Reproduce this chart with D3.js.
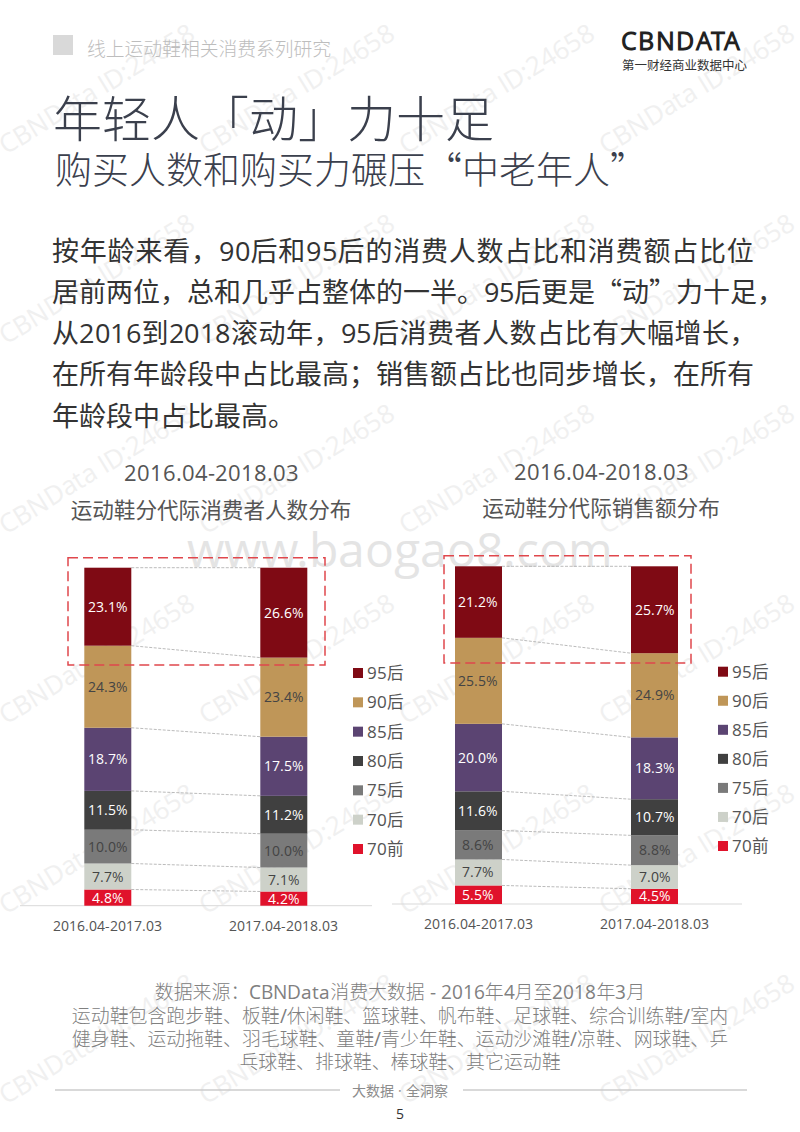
<!DOCTYPE html>
<html>
<head>
<meta charset="utf-8">
<title>CBNData</title>
<script src="https://d3js.org/d3.v7.min.js"></script>
<style>
/* latin and digits from Open Sans, everything else (full width quotes too) from Noto */
@font-face {
    font-family: "LatinPart";
    src: local("Open Sans");
    unicode-range: U+0020-007E, U+00B7;
}
html, body { margin: 0; padding: 0; background: #fff; }
svg { display: block; }
text { font-family: "LatinPart", "Noto Sans CJK SC", sans-serif; }
</style>
</head>
<body>
<view></view>
<script>
// generations, bottom of the stack first
var ages = ["70前", "70后", "75后", "80后", "85后", "90后", "95后"];
var periods = ["2016.04-2017.03", "2017.04-2018.03"];

var usersFirst = [4.8, 7.7, 10.0, 11.5, 18.7, 24.3, 23.1];
var usersSecond = [4.2, 7.1, 10.0, 11.2, 17.5, 23.4, 26.6];
var salesFirst = [5.5, 7.7, 8.6, 11.6, 20.0, 25.5, 21.2];
var salesSecond = [4.5, 7.0, 8.8, 10.7, 18.3, 24.9, 25.7];

var bodyLines = [
    "按年龄来看，90后和95后的消费人数占比和消费额占比位",
    "居前两位，总和几乎占整体的一半。95后更是“动”力十足，",
    "从2016到2018滚动年，95后消费者人数占比有大幅增长，",
    "在所有年龄段中占比最高；销售额占比也同步增长，在所有",
    "年龄段中占比最高。"
];
var sourceLines = [
    "数据来源：CBNData消费大数据 - 2016年4月至2018年3月",
    "运动鞋包含跑步鞋、板鞋/休闲鞋、篮球鞋、帆布鞋、足球鞋、综合训练鞋/室内",
    "健身鞋、运动拖鞋、羽毛球鞋、童鞋/青少年鞋、运动沙滩鞋/凉鞋、网球鞋、乒",
    "乓球鞋、排球鞋、棒球鞋、其它运动鞋"
];

var color = d3.scaleOrdinal()
    .domain(ages)
    .range(["#e0122b", "#cdd1c9", "#7a7a7a", "#404040", "#5b4472", "#bf9658", "#7f0a14"]);

var labelColor = d3.scaleOrdinal()
    .domain(ages)
    .range(["#fff", "#444", "#444", "#fff", "#fff", "#444", "#fff"]);

var svg = d3.select("view")
    .append("svg")
    .attr("width", 800)
    .attr("height", 1132);

// watermarks go under everything
var wm = svg.append("g").attr("fill", "#f0f0f0");
d3.range(4).forEach(function(c) {
    d3.range(6).forEach(function(r) {
        wm.append("text")
            .attr("transform", "translate(" + (197 + c * 200) + "," + (38 + r * 190) + ") rotate(-31.5)")
            .attr("text-anchor", "end")
            .attr("font-size", 26)
            .text("CBNData ID:24658");
    });
});
svg.append("text")
    .attr("x", 400)
    .attr("y", 567)
    .attr("text-anchor", "middle")
    .attr("font-size", 48)
    .attr("fill", "#e4e4e4")
    .text("www.baogao8.com");

// header
svg.append("rect")
    .attr("x", 53).attr("y", 35)
    .attr("width", 20).attr("height", 20)
    .attr("fill", "#d9d9d9");
svg.append("text")
    .attr("x", 87).attr("y", 56)
    .attr("font-size", 18.8)
    .attr("font-weight", 300)
    .attr("fill", "#bdbdbd")
    .text("线上运动鞋相关消费系列研究");
svg.append("text")
    .attr("x", 621).attr("y", 50)
    .attr("font-size", 25)
    .attr("font-weight", 700)
    .attr("letter-spacing", 1.4)
    .attr("fill", "#222")
    .text("CBNDATA");
svg.append("text")
    .attr("x", 622).attr("y", 70)
    .attr("font-size", 12.5)
    .attr("fill", "#333")
    .text("第一财经商业数据中心");

svg.append("text")
    .attr("x", 53).attr("y", 137)
    .attr("font-size", 49)
    .attr("font-weight", 300)
    .attr("fill", "#3b404d")
    .text("年轻人「动」力十足");
svg.append("text")
    .attr("x", 55).attr("y", 184)
    .attr("font-size", 37)
    .attr("font-weight", 300)
    .attr("fill", "#3b404d")
    .text("购买人数和购买力碾压“中老年人”");

svg.append("g").selectAll("text")
    .data(bodyLines)
    .enter().append("text")
    .attr("x", 52)
    .attr("y", function(d, i) { return [261, 302, 343, 384, 426][i]; })
    .attr("font-size", 27)
    .attr("letter-spacing", function(d, i) { return [0.8, 0, 0.5, 0, 0][i]; })
    .attr("fill", "#333")
    .text(function(d) { return d; });

function drawPanel(p) {
    var g = svg.append("g");

    var x = d3.scaleBand()
        .domain(periods)
        .range(p.xRange)
        .paddingInner(p.inner)
        .paddingOuter(0);

    var y = d3.scaleLinear()
        .domain([0, 1])
        .range(p.yRange);

    var rows = periods.map(function(period, i) {
        var row = {period: period};
        ages.forEach(function(a, j) { row[a] = p.values[i][j]; });
        return row;
    });

    var series = d3.stack()
        .keys(ages)
        .offset(d3.stackOffsetExpand)(rows);

    // baseline
    g.append("line")
        .attr("x1", p.base[0]).attr("x2", p.base[1])
        .attr("y1", y(0)).attr("y2", y(0))
        .attr("stroke", "#d9d9d9");

    // connectors between the two bars
    g.selectAll(".conn")
        .data(series)
        .enter().append("line")
        .attr("class", "conn")
        .attr("x1", x(periods[0]) + x.bandwidth())
        .attr("x2", x(periods[1]))
        .attr("y1", function(d) { return y(d[0][1]); })
        .attr("y2", function(d) { return y(d[1][1]); })
        .attr("stroke", "#aaa")
        .attr("stroke-width", 0.8)
        .attr("stroke-dasharray", "3,1.5");

    var layer = g.selectAll(".layer")
        .data(series)
        .enter().append("g")
        .attr("class", "layer");

    layer.selectAll("rect")
        .data(function(d) { return d.map(function(v) { return {key: d.key, v: v}; }); })
        .enter().append("rect")
        .attr("x", function(d) { return x(d.v.data.period); })
        .attr("y", function(d) { return y(d.v[1]); })
        .attr("width", x.bandwidth())
        .attr("height", function(d) { return y(d.v[0]) - y(d.v[1]); })
        .attr("fill", function(d) { return color(d.key); });

    layer.selectAll("text")
        .data(function(d) { return d.map(function(v) { return {key: d.key, v: v}; }); })
        .enter().append("text")
        .attr("x", function(d) { return x(d.v.data.period) + x.bandwidth() / 2; })
        .attr("y", function(d) { return (y(d.v[0]) + y(d.v[1])) / 2; })
        .attr("dy", "0.36em")
        .attr("text-anchor", "middle")
        .attr("font-size", 14)
        .attr("fill", function(d) { return labelColor(d.key); })
        .text(function(d) { return d.v.data[d.key].toFixed(1) + "%"; });

    // period labels
    var axis = g.append("g")
        .attr("transform", "translate(0," + y(0) + ")")
        .call(d3.axisBottom(x).tickSize(0).tickPadding(15));
    axis.select(".domain").remove();
    axis.selectAll("text")
        .attr("font-size", 14.3)
        .attr("fill", "#555")
        .style("font-family", "\"LatinPart\", \"Noto Sans CJK SC\", sans-serif");

    // highlight box
    g.append("rect")
        .attr("x", p.box[0]).attr("y", p.box[1])
        .attr("width", p.box[2] - p.box[0])
        .attr("height", p.box[3] - p.box[1])
        .attr("fill", "none")
        .attr("stroke", "#e0474c")
        .attr("stroke-width", 1.5)
        .attr("stroke-dasharray", "10,5");

    // titles
    g.append("text")
        .attr("x", p.titleX).attr("y", p.titleY[0])
        .attr("text-anchor", "middle")
        .attr("font-size", 21.7)
        .attr("fill", "#555")
        .text("2016.04-2018.03");
    g.append("text")
        .attr("x", p.titleX).attr("y", p.titleY[1])
        .attr("text-anchor", "middle")
        .attr("font-size", 21.6)
        .attr("fill", "#555")
        .text(p.title);

    // legend, 95后 on top
    var legY = d3.scalePoint()
        .domain(ages.slice().reverse())
        .range(p.legendY);
    var leg = g.selectAll(".leg")
        .data(ages)
        .enter().append("g")
        .attr("class", "leg")
        .attr("transform", function(d) { return "translate(" + p.legendX + "," + legY(d) + ")"; });
    leg.append("rect")
        .attr("y", -5)
        .attr("width", 10).attr("height", 10)
        .attr("fill", function(d) { return color(d); });
    leg.append("text")
        .attr("x", 14)
        .attr("dy", "0.36em")
        .attr("font-size", 16.6)
        .attr("fill", "#555")
        .text(function(d) { return d; });
}

drawPanel({
    values: [usersFirst, usersSecond],
    title: "运动鞋分代际消费者人数分布",
    xRange: [84.3, 307.3], inner: 0.733,
    yRange: [905.7, 567.7],
    base: [20, 372],
    box: [68, 557.7, 325, 665],
    titleX: 211, titleY: [481, 518],
    legendX: 353, legendY: [673, 849]
});
drawPanel({
    values: [salesFirst, salesSecond],
    title: "运动鞋分代际销售额分布",
    xRange: [455, 678], inner: 0.733,
    yRange: [904, 566.3],
    base: [392, 742],
    box: [444, 555.7, 691, 663],
    titleX: 601, titleY: [480, 516],
    legendX: 718, legendY: [671.7, 846]
});

// source note and footer
svg.append("g").selectAll("text")
    .data(sourceLines)
    .enter().append("text")
    .attr("x", 400)
    .attr("y", function(d, i) { return [999, 1023, 1046, 1069][i]; })
    .attr("text-anchor", "middle")
    .attr("font-size", 18.9)
    .attr("font-weight", 300)
    .attr("fill", "#808080")
    .text(function(d) { return d; });

[[55, 340], [463, 747]].forEach(function(s) {
    svg.append("line")
        .attr("x1", s[0]).attr("x2", s[1])
        .attr("y1", 1090).attr("y2", 1090)
        .attr("stroke", "#ccc")
        .attr("stroke-width", 1.5);
});
svg.append("text")
    .attr("x", 400).attr("y", 1096)
    .attr("text-anchor", "middle")
    .attr("font-size", 14)
    .attr("fill", "#8c8c8c")
    .text("大数据 · 全洞察");
svg.append("text")
    .attr("x", 400).attr("y", 1119)
    .attr("text-anchor", "middle")
    .attr("font-size", 14)
    .attr("fill", "#333")
    .text("5");
</script>
</body>
</html>
